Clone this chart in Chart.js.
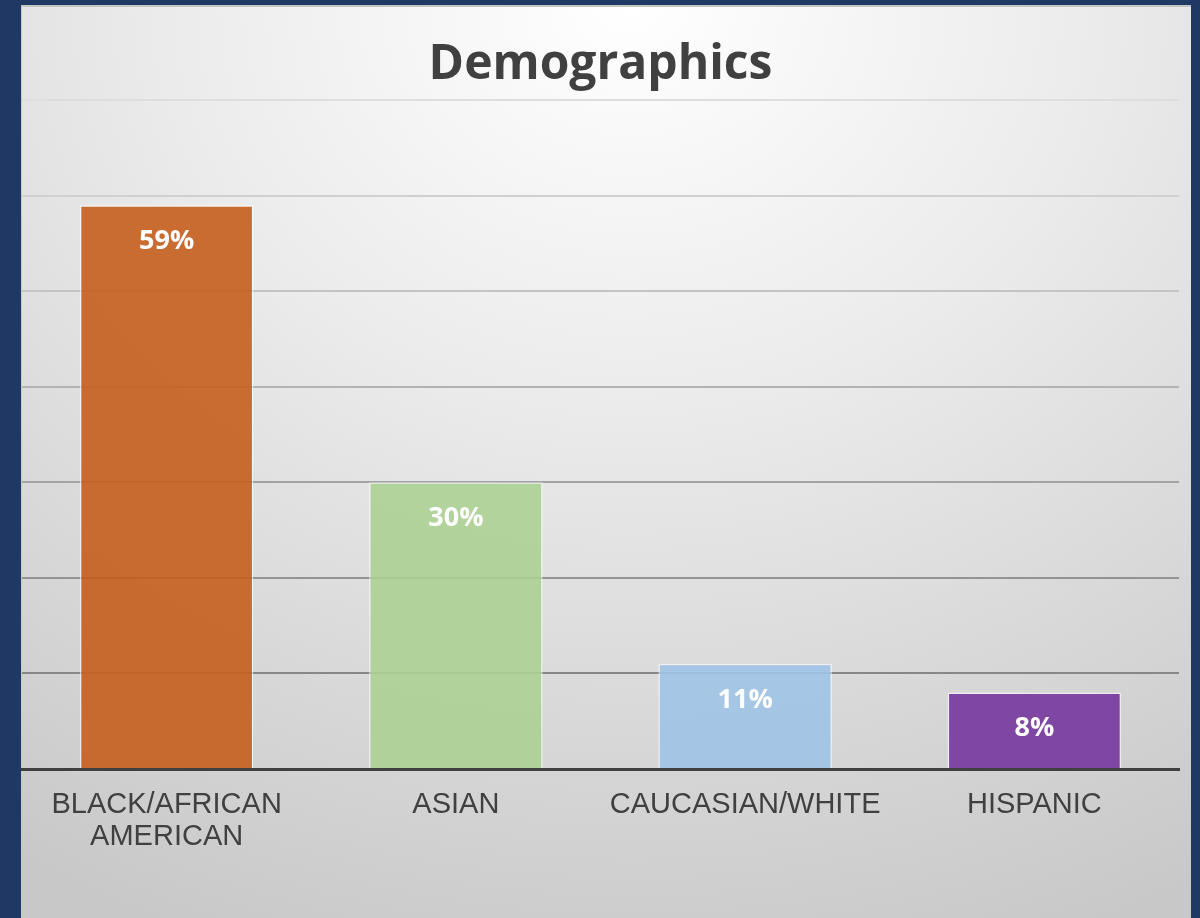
<!DOCTYPE html>
<html>
<head>
<meta charset="utf-8">
<title>Demographics</title>
<script src="https://cdn.jsdelivr.net/npm/chart.js@4.4.1/dist/chart.umd.min.js"></script>
<style>
  html, body { margin: 0; padding: 0; }
  body {
    width: 1200px; height: 918px; overflow: hidden;
    background: #1f3864;
    position: relative;
  }
  #panel {
    position: absolute; left: 21px; top: 5px; width: 1170px; height: 913px;
    background: radial-gradient(ellipse 100% 110% at 52% 0%, #ffffff 0%, #ebebeb 40%, #d8d8d8 72%, #c8c8c8 100%);
    box-shadow: inset 0 2px 0 #c4c4c4, inset 1px 0 0 #c8c8c8;
  }
  #chart { position: absolute; left: 0; top: 0; }
</style>
</head>
<body>
<div id="panel"></div>
<canvas id="chart" width="1200" height="918"></canvas>
<script>
// data
const categories = [['BLACK/AFRICAN', 'AMERICAN'], 'ASIAN', 'CAUCASIAN/WHITE', 'HISPANIC'];
const shares = [59, 30, 11, 8];
const barColors = [
  'rgba(197, 94, 29, 0.9)',    // orange
  'rgba(172, 209, 147, 0.9)',  // green
  'rgba(160, 195, 230, 0.9)',  // light blue
  'rgba(117, 55, 157, 0.9)'    // purple
];
const yTicks = [0, 10, 20, 30, 40, 50, 60, 70];
// gridlines darken towards the bottom
const gridShades = ['rgba(0,0,0,0)', '#878787', '#939393', '#a3a3a3', '#b3b3b3', '#c4c4c4', '#d0d0d0', '#dedede'];

// white percentage labels just inside the top of each bar
const barLabels = {
  id: 'barLabels',
  afterDatasetsDraw(chart) {
    const ctx = chart.ctx;
    const meta = chart.getDatasetMeta(0);
    ctx.save();
    ctx.fillStyle = '#ffffff';
    ctx.font = 'bold 27px "Open Sans"';
    ctx.textAlign = 'center';
    ctx.textBaseline = 'middle';
    meta.data.forEach((bar, i) => {
      ctx.fillText(shares[i] + '%', bar.x, bar.y + 36);
    });
    ctx.restore();
  }
};

new Chart(document.getElementById('chart'), {
  type: 'bar',
  data: {
    labels: categories,
    datasets: [{
      data: shares,
      backgroundColor: barColors,
      borderColor: 'rgba(255, 255, 255, 0.6)',
      borderWidth: 1.5,
      categoryPercentage: 1,
      barPercentage: 0.6
    }]
  },
  options: {
    responsive: false,
    animation: false,
    layout: { padding: { left: 22, right: 21, top: 0, bottom: 0 } },
    plugins: {
      legend: { display: false },
      tooltip: { enabled: false },
      title: {
        display: true,
        text: 'Demographics',
        color: '#404040',
        font: { family: '"Open Sans"', size: 48, weight: 'bold', lineHeight: 1.2 },
        padding: { top: 37, bottom: 5.4 }
      }
    },
    scales: {
      x: {
        grid: { display: false, drawTicks: false },
        border: { display: true, color: '#404040', width: 3 },
        ticks: {
          color: '#404040',
          font: { family: '"Liberation Sans", Arial, sans-serif', size: 29, lineHeight: 1.1 },
          padding: 20,
          maxRotation: 0,
          autoSkip: false
        },
        afterFit(scale) { scale.height = 149; }
      },
      y: {
        min: 0,
        max: 70,
        afterBuildTicks(scale) { scale.ticks = yTicks.map(v => ({ value: v })); },
        ticks: { display: false },
        border: { display: false },
        grid: {
          drawTicks: false,
          lineWidth: 2,
          color: (c) => gridShades[c.index] || '#cccccc'
        },
        afterFit(scale) { scale.width = 0; }
      }
    }
  },
  plugins: [barLabels]
});
</script>
</body>
</html>
